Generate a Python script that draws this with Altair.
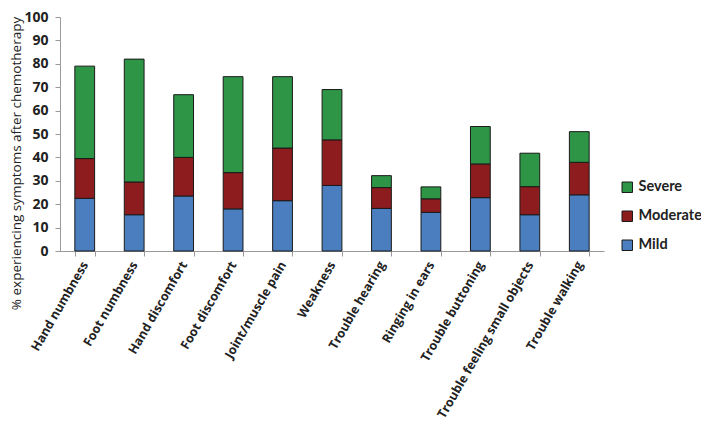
import altair as alt
import pandas as pd

categories = ["Hand numbness", "Foot numbness", "Hand discomfort", "Foot discomfort",
              "Joint/muscle pain", "Weakness", "Trouble hearing", "Ringing in ears",
              "Trouble buttoning", "Trouble feeling small objects", "Trouble walking"]
mild = [22.5, 15.5, 23.5, 18.0, 21.5, 28.0, 18.2, 16.5, 22.8, 15.5, 24.0]
moderate = [17.0, 14.0, 16.5, 15.5, 22.5, 19.5, 8.9, 5.8, 14.4, 12.0, 13.9]
severe = [39.5, 52.5, 26.8, 41.0, 30.5, 21.5, 5.1, 5.1, 16.0, 14.3, 13.1]
levels = ["Severe", "Moderate", "Mild"]
colors = ["#2E9446", "#8C1C1E", "#4A7EBF"]

rows = []
for i, c in enumerate(categories):
    for lvl, vals, o in (("Mild", mild, 0), ("Moderate", moderate, 1), ("Severe", severe, 2)):
        rows.append({"category": c, "level": lvl, "value": vals[i], "ord": o})
df = pd.DataFrame(rows)

FONT = "Open Sans"

chart = alt.Chart(df).mark_bar(stroke="#1a1a1a", strokeWidth=1).encode(
    x=alt.X("category:N", sort=categories, title=None,
            scale=alt.Scale(paddingInner=0.6, paddingOuter=0.3),
            axis=alt.Axis(labelAngle=-60, labelFontSize=12.5, labelFontWeight="bold",
                          labelFont=FONT, labelColor="#222", labelLimit=300,
                          domainColor="#999", tickColor="#999", tickSize=5,
                          tickBand="extent", labelPadding=6)),
    y=alt.Y("value:Q", stack="zero",
            scale=alt.Scale(domain=[0, 100], nice=False),
            title="% experiencing symptoms after chemotherapy",
            axis=alt.Axis(values=list(range(0, 101, 10)), grid=False,
                          labelFontSize=14, labelFontWeight="bold", labelFont=FONT,
                          labelColor="#222", domainColor="#999", tickColor="#999",
                          tickSize=5, labelPadding=7,
                          titleFont=FONT, titleFontSize=13.5, titleFontWeight="normal",
                          titleColor="#222", titleX=-51, titleY=146,
                          titleBaseline="top", titleAngle=-90, titleAlign="center")),
    color=alt.Color("level:N", scale=alt.Scale(domain=levels, range=colors),
                    legend=alt.Legend(title=None, orient="none", legendX=560, legendY=163,
                                      symbolType="square", symbolSize=110,
                                      symbolStrokeColor="#1a1a1a", symbolStrokeWidth=1,
                                      labelFontSize=14.5, labelFontWeight="bold",
                                      labelFont="Lato", labelColor="#222",
                                      rowPadding=13, labelOffset=4)),
    order=alt.Order("ord:Q", sort="ascending"),
).properties(
    width=544, height=234,
    autosize=alt.AutoSizeParams(type="none"),
    padding={"left": 52, "top": 9, "right": 97, "bottom": 173},
).configure_view(stroke=None)

chart.save("out.html", embed_options={"renderer": "svg", "actions": False})
